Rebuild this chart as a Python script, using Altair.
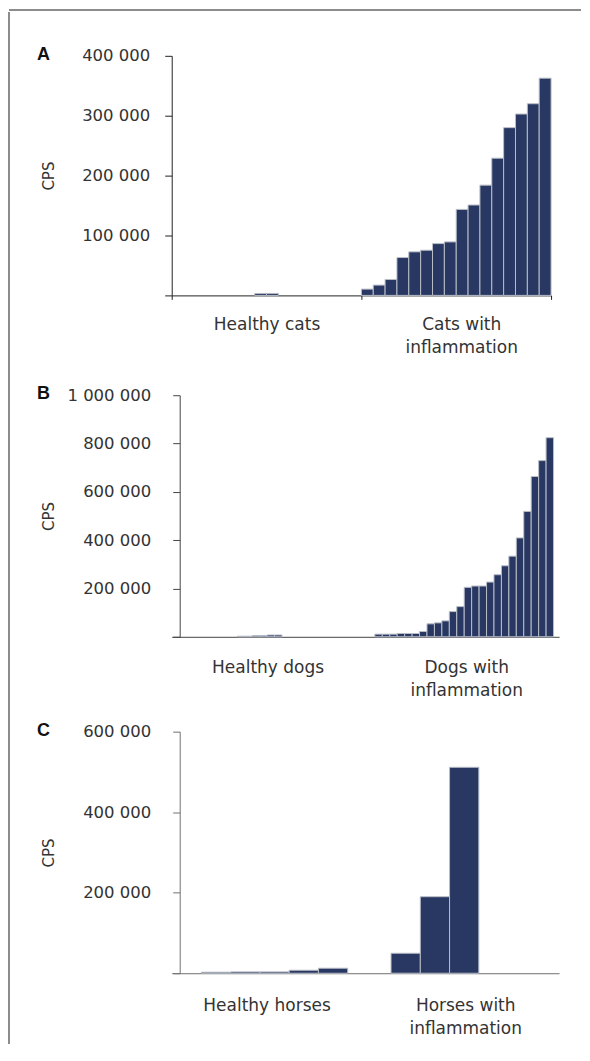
import json
import altair as alt
import pandas as pd

# ---------------- data ----------------
letters = ["A", "B", "C"]

cat_groups = ["Healthy cats", "Cats with\ninflammation"]
cats_healthy = [0, 0, 0, 0, 0, 0, 0, 3300, 3300, 0, 0, 0, 0, 0, 0, 0]
cats_inflamed = [10500, 17200, 26600, 63200, 72700, 75400, 86500, 89300,
                 143600, 150900, 184100, 229100, 280100, 302800, 320000, 362700]
cat_ticks = [0, 100000, 200000, 300000, 400000]

dog_groups = ["Healthy dogs", "Dogs with\ninflammation"]
dogs_healthy = [0, 0, 0, 0, 0, 0, 0, 2500, 2500, 5000, 5000, 7500, 7500,
                0, 0, 0, 0, 0, 0, 0, 0, 0, 0, 0]
dogs_inflamed = [11000, 11000, 11000, 13700, 13700, 13700, 22000, 53600,
                 57700, 66000, 104400, 125000, 204700, 210200, 210200, 226600,
                 256900, 294000, 333800, 409300, 519200, 663500, 729400, 824200]
dog_ticks = [0, 200000, 400000, 600000, 800000, 1000000]

horse_groups = ["Healthy horses", "Horses with\ninflammation"]
horses_healthy = [2500, 3300, 3300, 7400, 12400]
horses_inflamed = [49600, 190000, 511500, 0, 0]
horse_ticks = [0, 200000, 400000, 600000]

# ---------------- style ----------------
BAR = "#283862"
EDGE = "#b9bdc7"
FONT = "DejaVu Sans"
TEXT = "#333333"
FRAME = "#8c8c8c"
PLOT_W = 380
ORIGIN = 172          # page x of the plot origin
LETTER_X = 37         # page x of the panel letter
CPS_X = 56.6          # page x of the right side of the "CPS" title
TOP_GAP = 44          # space between the frame line and panel A's plot

Y_LABEL_EXPR = ("datum.value == 0 ? '' : "
                "replace(replace(format(datum.value, ','), ',', ' '), ',', ' ')")

one = pd.DataFrame({"k": [0]})


def panel(letter, groups, healthy, inflamed, ticks, h, pad, lead, axis_color,
          x_ticks, x_label_pad, y_label_pad, label_shift, top_ext, bot_ext):
    n = len(healthy)
    u = n + 2 * pad
    total = 2 * u
    rows = []
    for gi, vals in enumerate([healthy, inflamed]):
        for i, v in enumerate(vals):
            x0 = gi * u + pad + i
            rows.append({"group": groups[gi], "x0": x0, "x1": x0 + 1, "cps": v})
    df = pd.DataFrame(rows)

    centers = [u / 2, 3 * u / 2]
    edges = [0, u, total]
    expr = "''"
    for c, g in reversed(list(zip(centers, groups))):
        lines = g.split("\n")
        lab = json.dumps(lines if len(lines) > 1 else lines[0])
        expr = f"abs(datum.value - {c}) < 0.01 ? {lab} : {expr}"
    center_test = " || ".join(f"abs(datum.value - {c}) < 0.01" for c in centers)

    axis_kw = dict(
        title=None, labelExpr=expr, labelFont=FONT, labelFontSize=17,
        labelColor=TEXT, labelLineHeight=23, labelPadding=x_label_pad,
        labelAngle=0, labelFlush=False, labelOverlap=False, grid=False,
        labelOffset={"condition": {"test": f"datum.value > {u}",
                                   "value": label_shift[1]},
                     "value": label_shift[0]},
        domainColor=axis_color,
    )
    if x_ticks:
        xaxis = alt.Axis(values=sorted(edges + centers), ticks=True, tickSize=4,
                         tickColor=axis_color,
                         tickOpacity={"condition": {"test": center_test, "value": 0},
                                      "value": 1},
                         **axis_kw)
    else:
        xaxis = alt.Axis(values=centers, ticks=False, **axis_kw)

    axis_x = ORIGIN + lead
    yaxis = alt.Axis(values=ticks, labelExpr=Y_LABEL_EXPR, grid=False,
                     offset=-lead,
                     title="CPS", titleFont=FONT, titleFontSize=15,
                     titleFontWeight="normal", titleColor=TEXT,
                     titleX=CPS_X - axis_x, titleY=h / 2,
                     labelFont=FONT, labelFontSize=16.5, labelColor=TEXT,
                     labelPadding=y_label_pad, tickSize=7,
                     tickColor=axis_color, domainColor=axis_color)

    bars = (
        alt.Chart(df)
        .transform_filter("datum.cps > 0")
        .mark_bar(color=BAR, stroke=EDGE, strokeWidth=1)
        .encode(
            x=alt.X("x0:Q", scale=alt.Scale(domain=[-lead * total / PLOT_W, total],
                                            nice=False, zero=False),
                    axis=xaxis),
            x2="x1:Q",
            y=alt.Y("cps:Q", scale=alt.Scale(domain=[ticks[0], ticks[-1]], nice=False),
                    axis=yaxis),
            y2=alt.datum(0),
        )
    )
    tag = (
        alt.Chart(one)
        .mark_text(font="Liberation Sans", fontSize=18, fontWeight="bold",
                   color="#111111", align="left", baseline="alphabetic")
        .encode(x=alt.value(LETTER_X - ORIGIN), y=alt.value(4),
                text=alt.value(letter))
    )
    spacer = (
        alt.Chart(one)
        .mark_rule(strokeOpacity=0, opacity=0)
        .encode(x=alt.value(0), y=alt.value(-top_ext), y2=alt.value(h + bot_ext))
    )
    return alt.layer(bars, tag, spacer).properties(width=PLOT_W + lead, height=h)


pa = panel(letters[0], cat_groups, cats_healthy, cats_inflamed, cat_ticks, 240,
           0, 0, "#222222", True, 17, 15, (0, 5), TOP_GAP, 80)
pb = panel(letters[1], dog_groups, dogs_healthy, dogs_inflamed, dog_ticks, 242,
           0.74, 8, "#444444", False, 23, 22, (-7, 2), 20, 75)
pc = panel(letters[2], horse_groups, horses_healthy, horses_inflamed, horse_ticks, 242,
           0.74, 8, "#707070", False, 24, 22, (-8, 1), 20, 72)

panels = alt.vconcat(pa, pb, pc, spacing=0)

left_line = (alt.Chart(one).mark_rule(color=FRAME, strokeWidth=2)
             .encode(x=alt.value(0), y=alt.value(-TOP_GAP), y2=alt.value(990))
             .properties(width=1, height=1))
top_line = (alt.Chart(one).mark_rule(color=FRAME, strokeWidth=2)
            .encode(x=alt.value(0), x2=alt.value(573), y=alt.value(1))
            .properties(width=573, height=1))

body = alt.hconcat(left_line, panels, spacing=27)
chart = (alt.vconcat(top_line, body, spacing=0)
         .properties(padding=0)
         .configure_view(strokeWidth=0))

chart.save("out.html", embed_options={"renderer": "svg", "actions": False})
